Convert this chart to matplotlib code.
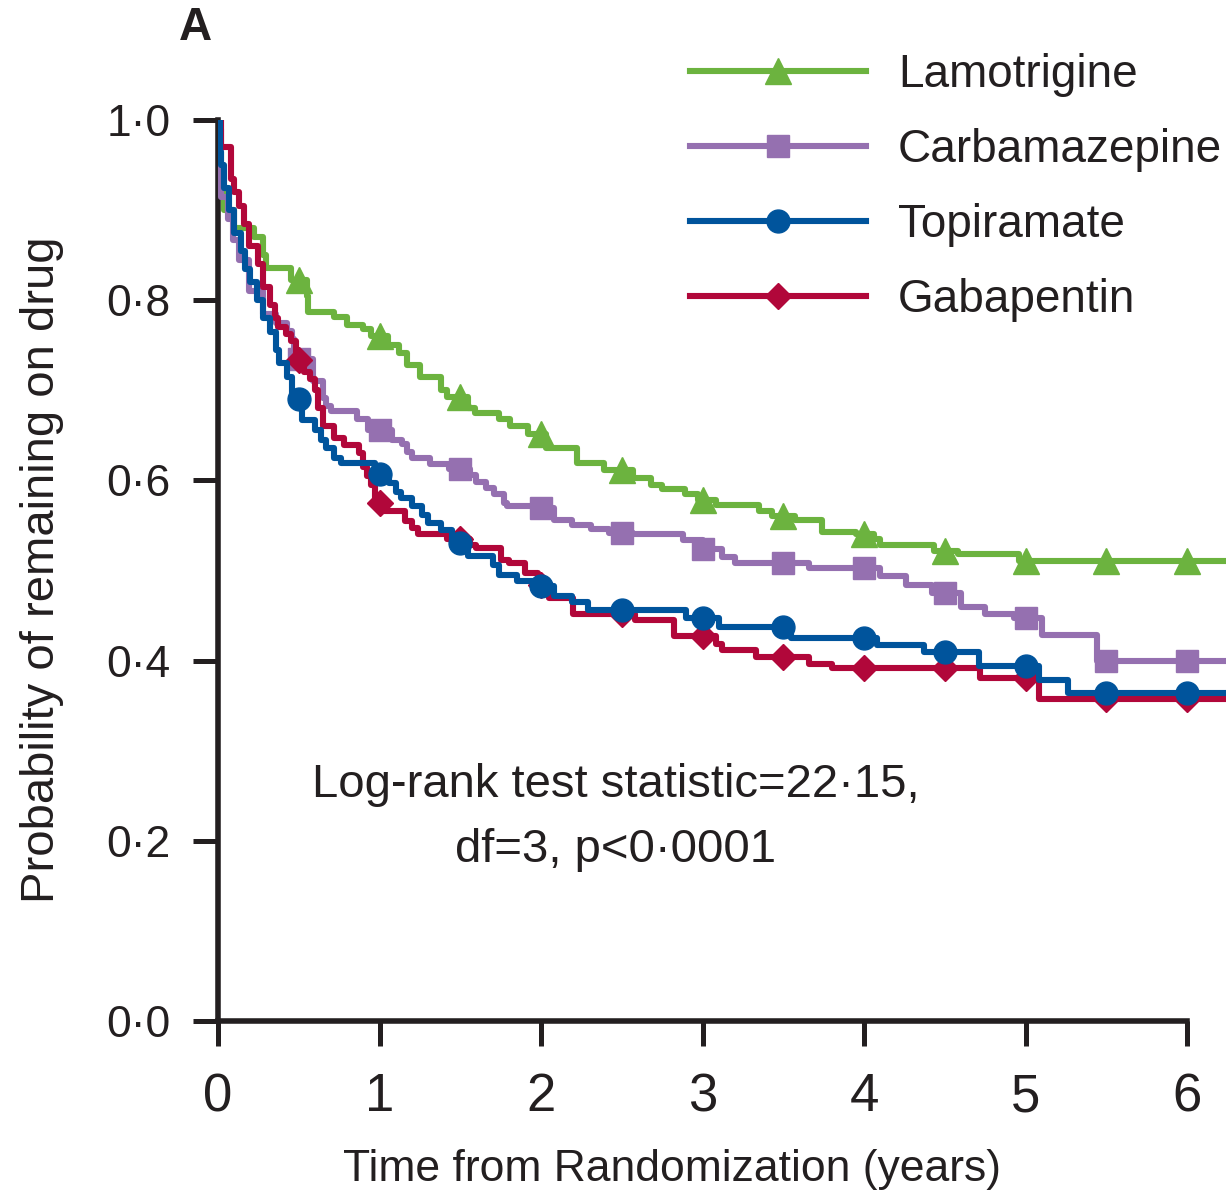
import numpy as np
import matplotlib
matplotlib.use("Agg")
import matplotlib.pyplot as plt
from matplotlib.lines import Line2D

plt.rcParams["font.family"] = ["Liberation Sans", "DejaVu Sans"]
INK = "#231f20"

# ---- Kaplan-Meier step data (time in years, probability) ----
lam_t = [0, 0.005, 0.02, 0.04, 0.10, 0.22, 0.28, 0.30, 0.45, 0.55, 0.56, 0.72, 0.80, 0.90,
         0.95, 1.05, 1.12, 1.17, 1.25, 1.38, 1.42, 1.55, 1.59, 1.74, 1.81, 1.92, 2.03, 2.22,
         2.39, 2.57, 2.68, 2.75, 2.89, 2.97, 3.08, 3.35, 3.43, 3.57, 3.74, 3.95, 4.06, 4.10,
         4.43, 4.58, 4.96]
lam_v = [1.0, 0.95, 0.925, 0.90, 0.88, 0.87, 0.85, 0.836, 0.822, 0.805, 0.787, 0.781, 0.772,
         0.768, 0.76, 0.75, 0.741, 0.728, 0.715, 0.70, 0.693, 0.68, 0.675, 0.668, 0.66, 0.652,
         0.636, 0.619, 0.611, 0.603, 0.595, 0.591, 0.585, 0.578, 0.573, 0.566, 0.561, 0.556,
         0.543, 0.54, 0.535, 0.528, 0.522, 0.518, 0.51]

carb_t = [0, 0.005, 0.02, 0.06, 0.09, 0.13, 0.19, 0.28, 0.36, 0.43, 0.46, 0.47, 0.59, 0.65,
          0.67, 0.70, 0.86, 0.93, 1.08, 1.14, 1.17, 1.20, 1.31, 1.43, 1.56, 1.60, 1.66, 1.71,
          1.77, 1.79, 1.95, 2.08, 2.19, 2.31, 2.42, 2.57, 2.88, 3.00, 3.12, 3.20, 3.66, 4.10,
          4.26, 4.42, 4.60, 4.75, 4.93, 5.10, 5.44]
carb_v = [1.0, 0.99, 0.915, 0.89, 0.867, 0.845, 0.81, 0.785, 0.775, 0.766, 0.757, 0.735,
          0.71, 0.692, 0.683, 0.677, 0.668, 0.656, 0.645, 0.64, 0.632, 0.625, 0.618, 0.613,
          0.606, 0.598, 0.592, 0.585, 0.575, 0.572, 0.569, 0.556, 0.551, 0.546, 0.542, 0.54,
          0.534, 0.524, 0.515, 0.508, 0.503, 0.494, 0.484, 0.475, 0.46, 0.452, 0.447, 0.428,
          0.40]

topi_t = [0, 0.01, 0.02, 0.04, 0.07, 0.10, 0.14, 0.17, 0.20, 0.24, 0.28, 0.32, 0.36, 0.38,
          0.43, 0.46, 0.52, 0.60, 0.64, 0.67, 0.72, 0.76, 0.97, 1.06, 1.10, 1.13, 1.20, 1.26,
          1.30, 1.38, 1.45, 1.55, 1.70, 1.74, 1.85, 1.95, 2.08, 2.19, 2.29, 2.90, 3.10, 3.55,
          4.08, 4.37, 4.71, 5.08, 5.26]
topi_v = [1.0, 0.965, 0.95, 0.925, 0.90, 0.875, 0.855, 0.835, 0.82, 0.80, 0.78, 0.765,
          0.745, 0.73, 0.715, 0.69, 0.667, 0.656, 0.645, 0.636, 0.625, 0.619, 0.607, 0.597,
          0.587, 0.58, 0.572, 0.562, 0.553, 0.545, 0.53, 0.516, 0.506, 0.495, 0.488, 0.483,
          0.472, 0.465, 0.456, 0.447, 0.437, 0.425, 0.417, 0.41, 0.394, 0.378, 0.364]

gaba_t = [0, 0.02, 0.08, 0.10, 0.13, 0.16, 0.19, 0.25, 0.28, 0.32, 0.35, 0.37, 0.42, 0.45,
          0.48, 0.53, 0.57, 0.60, 0.62, 0.65, 0.72, 0.78, 0.87, 0.90, 0.92, 0.95, 0.97, 1.03,
          1.16, 1.20, 1.24, 1.42, 1.56, 1.60, 1.75, 1.80, 1.90, 1.98, 2.05, 2.20, 2.58, 2.82,
          3.08, 3.12, 3.33, 3.66, 3.80, 4.72, 5.08]
gaba_v = [1.0, 0.97, 0.935, 0.92, 0.905, 0.885, 0.86, 0.84, 0.815, 0.795, 0.78, 0.77, 0.763,
          0.755, 0.734, 0.72, 0.712, 0.70, 0.68, 0.66, 0.647, 0.639, 0.63, 0.615, 0.605, 0.595,
          0.575, 0.566, 0.555, 0.547, 0.54, 0.535, 0.528, 0.525, 0.512, 0.508, 0.497, 0.484,
          0.47, 0.452, 0.445, 0.427, 0.418, 0.412, 0.404, 0.396, 0.392, 0.381, 0.357]

labels = ["Lamotrigine", "Carbamazepine", "Topiramate", "Gabapentin"]
colors = ["#6cb33f", "#9570b0", "#00549c", "#b1073a"]
markers = ["^", "s", "o", "D"]
msizes = [19, 16, 16.5, 13.5]
series = [(lam_t, lam_v), (carb_t, carb_v), (topi_t, topi_v), (gaba_t, gaba_v)]
mark_t = [0.5, 1.0, 1.5, 2.0, 2.5, 3.0, 3.5, 4.0, 4.5, 5.0, 5.5, 6.0]
xticks = [0, 1, 2, 3, 4, 5, 6]
yticks = [0.0, 0.2, 0.4, 0.6, 0.8, 1.0]
XMAX = 6.24

W, H = 1226, 1196
fig = plt.figure(figsize=(W / 100, H / 100), dpi=100)
ax = fig.add_axes([218 / W, 175 / H, 1008 / W, 901 / H])

LW = 4.4
draw_order = [0, 1, 3, 2]
for i in draw_order:
    t, v = series[i]
    t = np.array(list(t) + [XMAX])
    v = np.array(list(v) + [v[-1]])
    ax.step(t, v, where="post", color=colors[i], lw=LW, zorder=3 + draw_order.index(i))
    mt = np.array(mark_t)
    idx = np.searchsorted(t, mt, side="right") - 1
    ax.plot(mt, v[idx], ls="none", marker=markers[i], ms=msizes[i], color=colors[i],
            mec=colors[i], zorder=3 + draw_order.index(i))

ax.set_xlim(0, XMAX)
ax.set_ylim(0, 1.0)
for s in ["top", "right"]:
    ax.spines[s].set_visible(False)
for s in ["left", "bottom"]:
    ax.spines[s].set_linewidth(4)
    ax.spines[s].set_color(INK)
ax.spines["bottom"].set_bounds(0, 6)
ax.spines["left"].set_bounds(0, 1)
ax.set_xticks(xticks)
ax.set_xticklabels([str(x) for x in xticks])
ax.set_yticks(yticks)
ax.set_yticklabels([f"{y:.1f}".replace(".", "\u00b7") for y in yticks])
ax.tick_params(axis="both", direction="out", length=18, width=3.6, color=INK, labelcolor=INK)
ax.tick_params(axis="x", pad=19, labelsize=38)
ax.tick_params(axis="y", pad=16, labelsize=32)

ax.text(2.463, 0.262, "Log-rank test statistic=22\u00b715,", ha="center", va="center",
        fontsize=34, color=INK)
ax.text(2.463, 0.190, "df=3, p<0\u00b70001", ha="center", va="center", fontsize=34, color=INK)

fig.text(42 / W, 1 - 570 / H, "Probability of remaining on drug", rotation=90,
         ha="center", va="center", fontsize=34, color=INK)
fig.text(672 / W, 1 - 1170 / H, "Time from Randomization (years)", ha="center",
         va="center", fontsize=32, color=INK)
fig.text(195 / W, 1 - 28 / H, "A", ha="center", va="center", fontsize=33,
         fontweight="bold", color=INK)

handles = [Line2D([], [], color=c, lw=LW, marker=m, ms=s)
           for c, m, s in zip(colors, markers, msizes)]
fig.legend(handles, labels, loc="upper left", bbox_to_anchor=(690 / W, 1 - 53 / H),
           frameon=False, fontsize=33, handlelength=3.84, handletextpad=0.7,
           labelspacing=0.68, borderpad=0, borderaxespad=0, numpoints=1,
           labelcolor=INK)

fig.savefig("out.png", dpi=100)
